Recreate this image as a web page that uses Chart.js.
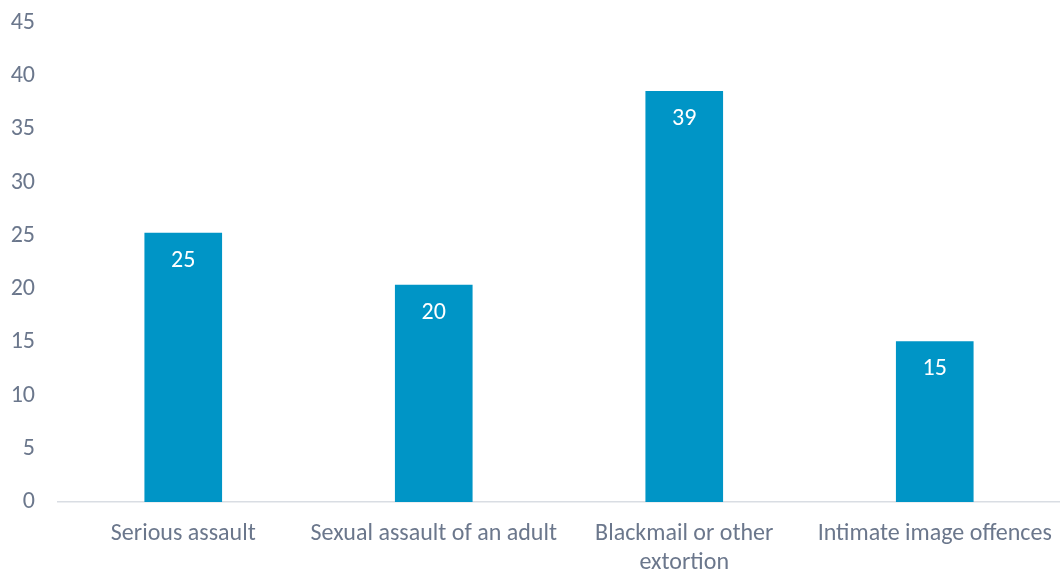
<!DOCTYPE html>
<html>
<head>
<meta charset="utf-8">
<script src="https://cdn.jsdelivr.net/npm/chart.js@4"></script>
<style>
  html, body { margin: 0; padding: 0; background: #fff; }
  #wrap { width: 1060px; height: 572px; }
</style>
</head>
<body>
<div id="wrap"><canvas id="myChart" width="1060" height="572"></canvas></div>
<script>
// Chart data
const categories = ['Serious assault', 'Sexual assault of an adult', ['Blackmail or other', 'extortion'], 'Intimate image offences'];
const values = [25.3, 20.4, 38.6, 15.1];
const yTicks = [0, 5, 10, 15, 20, 25, 30, 35, 40, 45];

const textColor = '#6b778c';
const barColor = '#0095c6';
const fontFamily = 'Carlito, Calibri, "Open Sans", sans-serif';

// Draw rounded value labels inside top of each bar
const barLabels = {
  id: 'barLabels',
  afterDatasetsDraw(chart) {
    const ctx = chart.ctx;
    const meta = chart.getDatasetMeta(0);
    ctx.save();
    ctx.fillStyle = '#ffffff';
    ctx.font = '24px ' + fontFamily;
    ctx.textAlign = 'center';
    ctx.textBaseline = 'middle';
    meta.data.forEach((bar, i) => {
      ctx.fillText(Math.round(values[i]), bar.x, bar.y + 28);
    });
    ctx.restore();
  }
};

const ctx = document.getElementById('myChart').getContext('2d');
new Chart(ctx, {
  type: 'bar',
  data: {
    labels: categories,
    datasets: [{
      data: values,
      backgroundColor: barColor,
      categoryPercentage: 1,
      barPercentage: 0.31
    }]
  },
  options: {
    responsive: false,
    animation: false,
    layout: { padding: { top: 23, right: 0, left: 0, bottom: 0 } },
    plugins: {
      legend: { display: false },
      tooltip: { enabled: false }
    },
    scales: {
      x: {
        grid: { display: false, drawTicks: false },
        border: { display: true, color: '#d9dde3', width: 1.5 },
        ticks: {
          color: textColor,
          font: { family: fontFamily, size: 24, lineHeight: 1.2 },
          padding: 18,
          maxRotation: 0,
          autoSkip: false
        },
        afterFit(scale) {
          scale.height = 70;
          scale.paddingLeft = 0;
          scale.paddingRight = 0;
        }
      },
      y: {
        min: 0,
        max: 45,
        afterBuildTicks(scale) { scale.ticks = yTicks.map(v => ({ value: v })); },
        grid: { display: false, drawTicks: false },
        border: { display: false },
        ticks: {
          color: textColor,
          font: { family: fontFamily, size: 24 },
          padding: 23
        },
        afterFit(scale) {
          scale.width = 58;
          scale.paddingTop = 0;
          scale.paddingBottom = 0;
        }
      }
    }
  },
  plugins: [barLabels]
});
</script>
</body>
</html>
